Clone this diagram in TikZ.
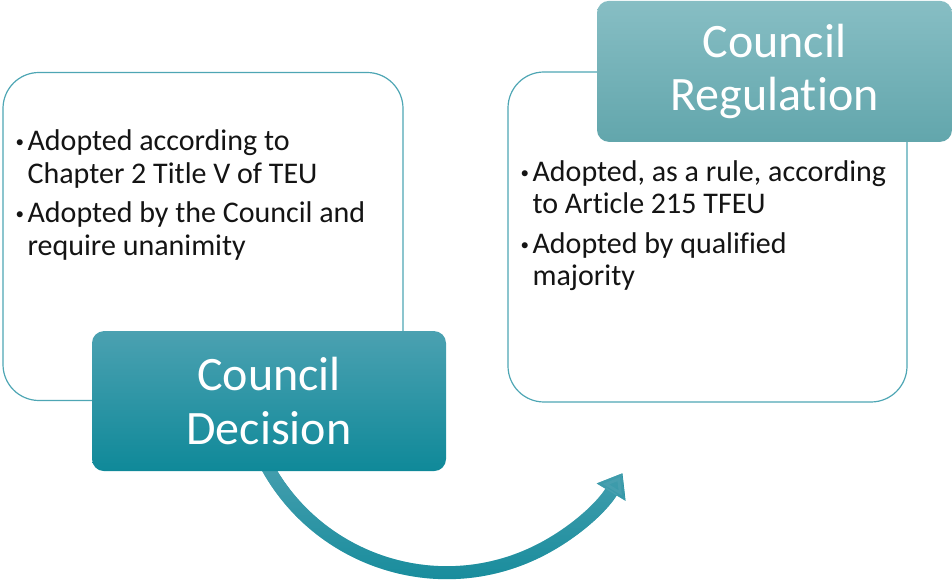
\documentclass[tikz,border=0pt]{standalone}
\usepackage{fontspec}
\setmainfont{Carlito}[Ligatures=NoCommon]
\usetikzlibrary{arrows.meta, positioning, backgrounds, fadings}

\definecolor{cardline}{RGB}{78,166,180}
\definecolor{dectop}{RGB}{75,161,177}
\definecolor{decmid}{RGB}{24,151,168}
\definecolor{decbot}{RGB}{15,137,153}
\definecolor{regtop}{RGB}{135,190,196}
\definecolor{regbot}{RGB}{98,166,172}
\definecolor{ink}{RGB}{20,20,20}

\tikzfading[name=fadeup, top color=transparent!0, bottom color=transparent!100]

% bullet and hanging indent for the card texts
\newcommand{\itemdot}{\makebox[12pt][l]{\raisebox{3pt}{\fontsize{17}{17}\selectfont\textbullet}}}
\newcommand{\itemgap}{\hspace*{12pt}}

\begin{document}
\begin{tikzpicture}[x=1pt, y=1pt,
  card/.style={draw=cardline, line width=1.2pt, fill=white, rounded corners=36pt,
    minimum width=400pt, minimum height=328pt, inner sep=0pt},
  tag/.style={rounded corners=12pt, minimum width=355pt, minimum height=141pt,
    text=white, align=center, inner sep=0pt, font=\fontsize{48}{53.3}\selectfont},
  points/.style={align=left, anchor=north west, inner sep=0pt, text=ink,
    font=\fontsize{30}{32.5}\selectfont},
  flow/.style={draw=decbot, line width=13pt, -{Triangle[length=22pt, width=32pt]}}]
\useasboundingbox (0,0) rectangle (952,580);

% the two cards
\node (leftcard) [card] at (203,343.5) {};
\node (rightcard) [card, minimum width=399pt, minimum height=330pt] at (707.5,343) {};

% their titles
\node (decision) [tag, top color=dectop, middle color=decmid, bottom color=decbot,
  minimum width=354pt, minimum height=140pt] at ([xshift=66pt]leftcard.south) {Council\\Decision};
\node (regulation) [tag, top color=regtop, bottom color=regbot] at ([xshift=67pt]rightcard.north) {\raisebox{-3pt}{Council}\\\raisebox{-3pt}{Regulation}};

% bullet points
\node (leftpoints) [points] at ([xshift=13pt, yshift=-58pt]leftcard.north west)
  {\itemdot Adopted according to\\
   \itemgap Chapter 2 Title V of TEU\\[7pt]
   \itemdot Adopted by the Council and\\
   \itemgap require unanimity};
\node (rightpoints) [points] at ([xshift=13pt, yshift=-89pt]rightcard.north west)
  {\itemdot Adopted, as a rule, according\\
   \itemgap to Article 215 TFEU\\[7pt]
   \itemdot Adopted by qualified\\
   \itemgap majority};

% curved arrow from decision to regulation
\begin{pgfonlayer}{background}
\draw[flow] ([xshift=-8pt, yshift=17pt]decision.south) arc[start angle=205, end angle=329, radius=205];
\draw[flow, draw=dectop, path fading=fadeup] ([xshift=-8pt, yshift=17pt]decision.south) arc[start angle=205, end angle=329, radius=205];
\end{pgfonlayer}
\end{tikzpicture}
\end{document}
